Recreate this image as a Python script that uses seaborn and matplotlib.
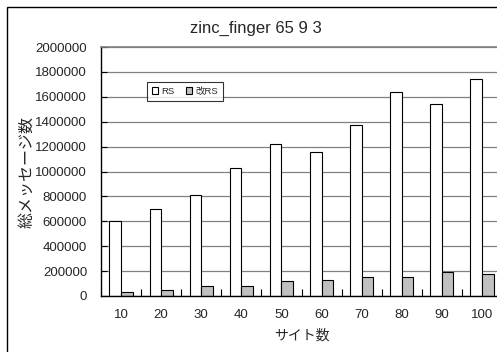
import matplotlib
matplotlib.use("Agg")
import matplotlib.pyplot as plt
import seaborn as sns
import pandas as pd
from matplotlib.patches import Rectangle
from matplotlib.ticker import MultipleLocator, FixedLocator

sites = [10, 20, 30, 40, 50, 60, 70, 80, 90, 100]
rs = [600000, 700000, 810000, 1030000, 1220000, 1160000, 1370000, 1640000, 1540000, 1740000]
kai_rs = [35000, 50000, 80000, 80000, 120000, 125000, 150000, 150000, 190000, 175000]
series_names = ["RS", "改RS"]
title = "zinc_finger 65 9 3"
xlabel = "サイト数"
ylabel = "総メッセージ数"

df = pd.DataFrame({
    "site": [str(s) for s in sites] * 2,
    "value": rs + kai_rs,
    "series": [series_names[0]] * len(sites) + [series_names[1]] * len(sites),
})

sns.set_style("white")
plt.rcParams["font.family"] = ["Liberation Sans", "Noto Sans CJK JP", "DejaVu Sans"]

W, H = 497, 352
fig = plt.figure(figsize=(W / 100, H / 100), dpi=100)
ax = fig.add_axes([101 / W, 1 - 296 / H, (502 - 101) / W, (296 - 47) / H])

sns.barplot(data=df, x="site", y="value", hue="series",
            palette={"RS": "white", "改RS": "#c0c0c0"},
            width=0.58, gap=0, edgecolor="black", linewidth=0.8,
            saturation=1, ax=ax)

ax.set_xlim(-0.5, 9.5)
ax.set_ylim(0, 2000000)
ax.yaxis.set_major_locator(MultipleLocator(200000))
ax.ticklabel_format(axis="y", style="plain")
ax.yaxis.grid(True, color="#808080", linewidth=0.9)
ax.set_axisbelow(True)

ax.spines["right"].set_visible(False)
ax.spines["top"].set_color("#808080")
ax.spines["top"].set_linewidth(1.2)
for s in ["left", "bottom"]:
    ax.spines[s].set_color("black")
    ax.spines[s].set_linewidth(1.0)
    ax.spines[s].set_visible(True)

ax.tick_params(axis="y", direction="in", length=4, width=0.8, color="black",
               labelsize=9.5, pad=10, left=True)
ax.tick_params(axis="x", which="major", length=0, labelsize=9.5, pad=9)
ax.xaxis.set_minor_locator(FixedLocator([i + 0.5 for i in range(9)]))
ax.tick_params(axis="x", which="minor", direction="in", length=5, width=0.8,
               color="black", bottom=True)

ax.set_xlabel(xlabel, fontsize=10, labelpad=6)
ax.set_ylabel(ylabel, fontsize=11.5, labelpad=0.5)
fig.text(256 / W, 1 - 28 / H, title, fontsize=12, ha="center", va="center")

leg = ax.legend(loc="upper left", bbox_to_anchor=(0.102, 0.88), fontsize=6.8,
                frameon=True, fancybox=False, edgecolor="black",
                ncol=2, handlelength=0.7, handleheight=0.7, handletextpad=0.3,
                columnspacing=1.2, borderpad=0.55, title=None)
leg.get_frame().set_linewidth(0.8)
for h in leg.legend_handles:
    h.set_edgecolor("black")
    h.set_linewidth(0.8)

fig.patches.append(Rectangle((7 / W, -0.1), 1.2, 1 - 7 / H + 0.1,
                             transform=fig.transFigure, fill=False,
                             edgecolor="black", linewidth=1.0))

fig.savefig("out.png", dpi=100)
